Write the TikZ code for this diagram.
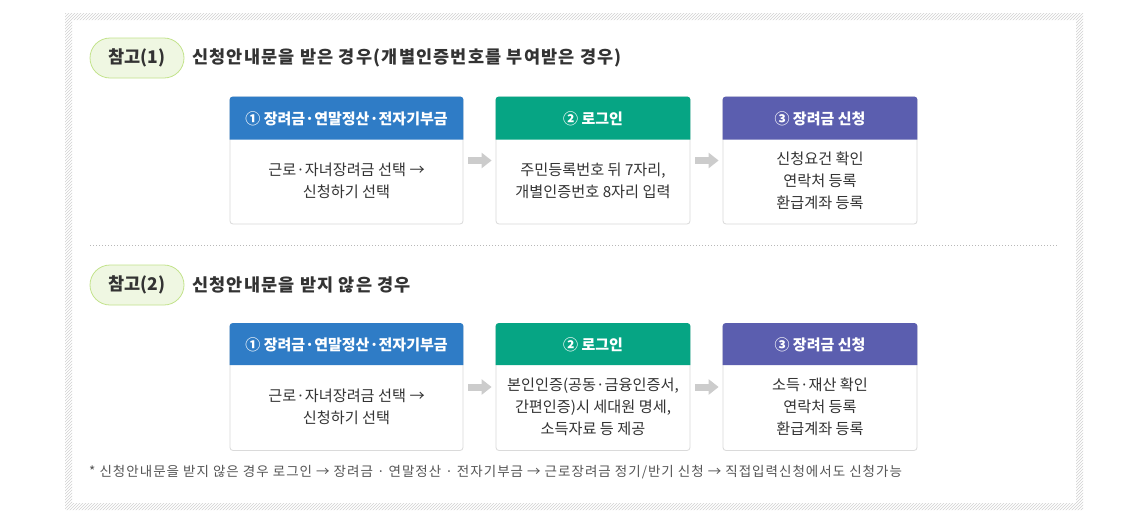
\documentclass[tikz,border=0pt]{standalone}
\usepackage{fontspec}
\setmainfont{Noto Sans CJK KR}
\newfontfamily\titlefont[LetterSpace=7]{Noto Sans CJK KR}
\newfontfamily\notefont[LetterSpace=7.5]{Noto Sans CJK KR}
\usetikzlibrary{patterns,arrows.meta,positioning}
\definecolor{hdrA}{HTML}{2F7CC6}
\definecolor{hdrB}{HTML}{06A584}
\definecolor{hdrC}{HTML}{5B5EAF}
\definecolor{pillfill}{HTML}{EFF7E2}
\definecolor{pillline}{HTML}{C3E38C}
\definecolor{txtdark}{HTML}{333333}
\definecolor{txtbody}{HTML}{333333}
\definecolor{boxline}{HTML}{DADADA}
\definecolor{arrowgray}{HTML}{CCCCCC}
\definecolor{notegray}{HTML}{555555}
\begin{document}
\begin{tikzpicture}[x=1pt,y=-1pt,
  pill/.style={draw=pillline, fill=pillfill, line width=0.8pt, rounded corners=20pt,
    minimum width=94pt, minimum height=40pt, inner sep=0pt, text=txtdark,
    font=\fontsize{17.5}{18}\selectfont\bfseries},
  titletxt/.style={anchor=west, inner sep=0pt, text=txtdark, font=\titlefont\fontsize{17.5}{18}\selectfont\bfseries},
  outerbox/.style={draw=boxline, line width=0.8pt, rounded corners=3pt, fill=white,
    minimum height=127pt, inner sep=0pt},
  hdrbox/.style={inner sep=0pt, text=white,
    font=\fontsize{15}{16}\selectfont\bfseries},
  bodytxt/.style={align=center, inner sep=0pt, text=txtbody, font=\fontsize{15.2}{22}\selectfont},
  flowarrow/.style={arrowgray, line width=7pt, -{Triangle[length=10pt,width=15pt]},
    shorten <=5pt, shorten >=4pt},
  notetxt/.style={anchor=west, inner sep=0pt, text=notegray, font=\notefont\fontsize{13.5}{14}\selectfont}
]
\useasboundingbox (0,0) rectangle (1121,520);
\fill[white] (0,0) rectangle (1121,520);
% hatched frame
\fill[pattern=north east lines, pattern color=black!18, even odd rule]
  (65,13) rectangle (1083,510) (72,20) rectangle (1076,503);

% ---------- Section 1 ----------
\node[pill] (p1) at (137,58) {참고(1)};
\node[titletxt] (t1) at (192,58) {신청안내문을 받은 경우(개별인증번호를 부여받은 경우)};

\node[outerbox, minimum width=233pt] (a1) at (346.5,160.5) {};
\node[outerbox, minimum width=194pt] (b1) at (593,160.5) {};
\node[outerbox, minimum width=194pt] (c1) at (820,160.5) {};

\fill[hdrA, rounded corners=3pt] ([yshift=-43pt]a1.north west) [sharp corners] -- ([yshift=-43pt]a1.north east) [rounded corners=3pt] -- (a1.north east) -- (a1.north west) [sharp corners] -- cycle;
\fill[hdrB, rounded corners=3pt] ([yshift=-43pt]b1.north west) [sharp corners] -- ([yshift=-43pt]b1.north east) [rounded corners=3pt] -- (b1.north east) -- (b1.north west) [sharp corners] -- cycle;
\fill[hdrC, rounded corners=3pt] ([yshift=-43pt]c1.north west) [sharp corners] -- ([yshift=-43pt]c1.north east) [rounded corners=3pt] -- (c1.north east) -- (c1.north west) [sharp corners] -- cycle;

\node[hdrbox] (ha1) at (346.5,118.5) {① 장려금·연말정산·전자기부금};
\node[hdrbox] (hb1) at (593,118.5) {② 로그인};
\node[hdrbox] (hc1) at (820,118.5) {③ 장려금 신청};

\node[bodytxt] (ta1) at (346.5,181) {근로·자녀장려금 선택 →\\신청하기 선택};
\node[bodytxt] (tb1) at (593,181) {주민등록번호 뒤 7자리,\\개별인증번호 8자리 입력};
\node[bodytxt] (tc1) at (820,181) {신청요건 확인\\연락처 등록\\환급계좌 등록};

\draw[flowarrow] (a1.east) -- (b1.west);
\draw[flowarrow] (b1.east) -- (c1.west);

% separator
\coordinate (s1) at (90,245);
\coordinate (s2) at (1058,245);
\draw[black!28, line width=0.8pt, dash pattern=on 1.2pt off 1.8pt] (s1) -- (s2);

% ---------- Section 2 ----------
\node[pill] (p2) at (137,285) {참고(2)};
\node[titletxt] (t2) at (192,285) {신청안내문을 받지 않은 경우};

\node[outerbox, minimum width=233pt] (a2) at (346.5,387) {};
\node[outerbox, minimum width=194pt] (b2) at (593,387) {};
\node[outerbox, minimum width=194pt] (c2) at (820,387) {};

\fill[hdrA, rounded corners=3pt] ([yshift=-42pt]a2.north west) [sharp corners] -- ([yshift=-42pt]a2.north east) [rounded corners=3pt] -- (a2.north east) -- (a2.north west) [sharp corners] -- cycle;
\fill[hdrB, rounded corners=3pt] ([yshift=-42pt]b2.north west) [sharp corners] -- ([yshift=-42pt]b2.north east) [rounded corners=3pt] -- (b2.north east) -- (b2.north west) [sharp corners] -- cycle;
\fill[hdrC, rounded corners=3pt] ([yshift=-42pt]c2.north west) [sharp corners] -- ([yshift=-42pt]c2.north east) [rounded corners=3pt] -- (c2.north east) -- (c2.north west) [sharp corners] -- cycle;

\node[hdrbox] (ha2) at (346.5,345) {① 장려금·연말정산·전자기부금};
\node[hdrbox] (hb2) at (593,345) {② 로그인};
\node[hdrbox] (hc2) at (820,345) {③ 장려금 신청};

\node[bodytxt] (ta2) at (346.5,407) {근로·자녀장려금 선택 →\\신청하기 선택};
\node[bodytxt] (tb2) at (593,407) {본인인증(공동·금융인증서,\\간편인증)시 세대원 명세,\\소득자료 등 제공};
\node[bodytxt] (tc2) at (820,407) {소득·재산 확인\\연락처 등록\\환급계좌 등록};

\draw[flowarrow] (a2.east) -- (b2.west);
\draw[flowarrow] (b2.east) -- (c2.west);

\node[notetxt] (note) at (89,472) {* 신청안내문을 받지 않은 경우 로그인 → 장려금 · 연말정산 · 전자기부금 → 근로장려금 정기/반기 신청 → 직접입력신청에서도 신청가능};
\end{tikzpicture}
\end{document}
